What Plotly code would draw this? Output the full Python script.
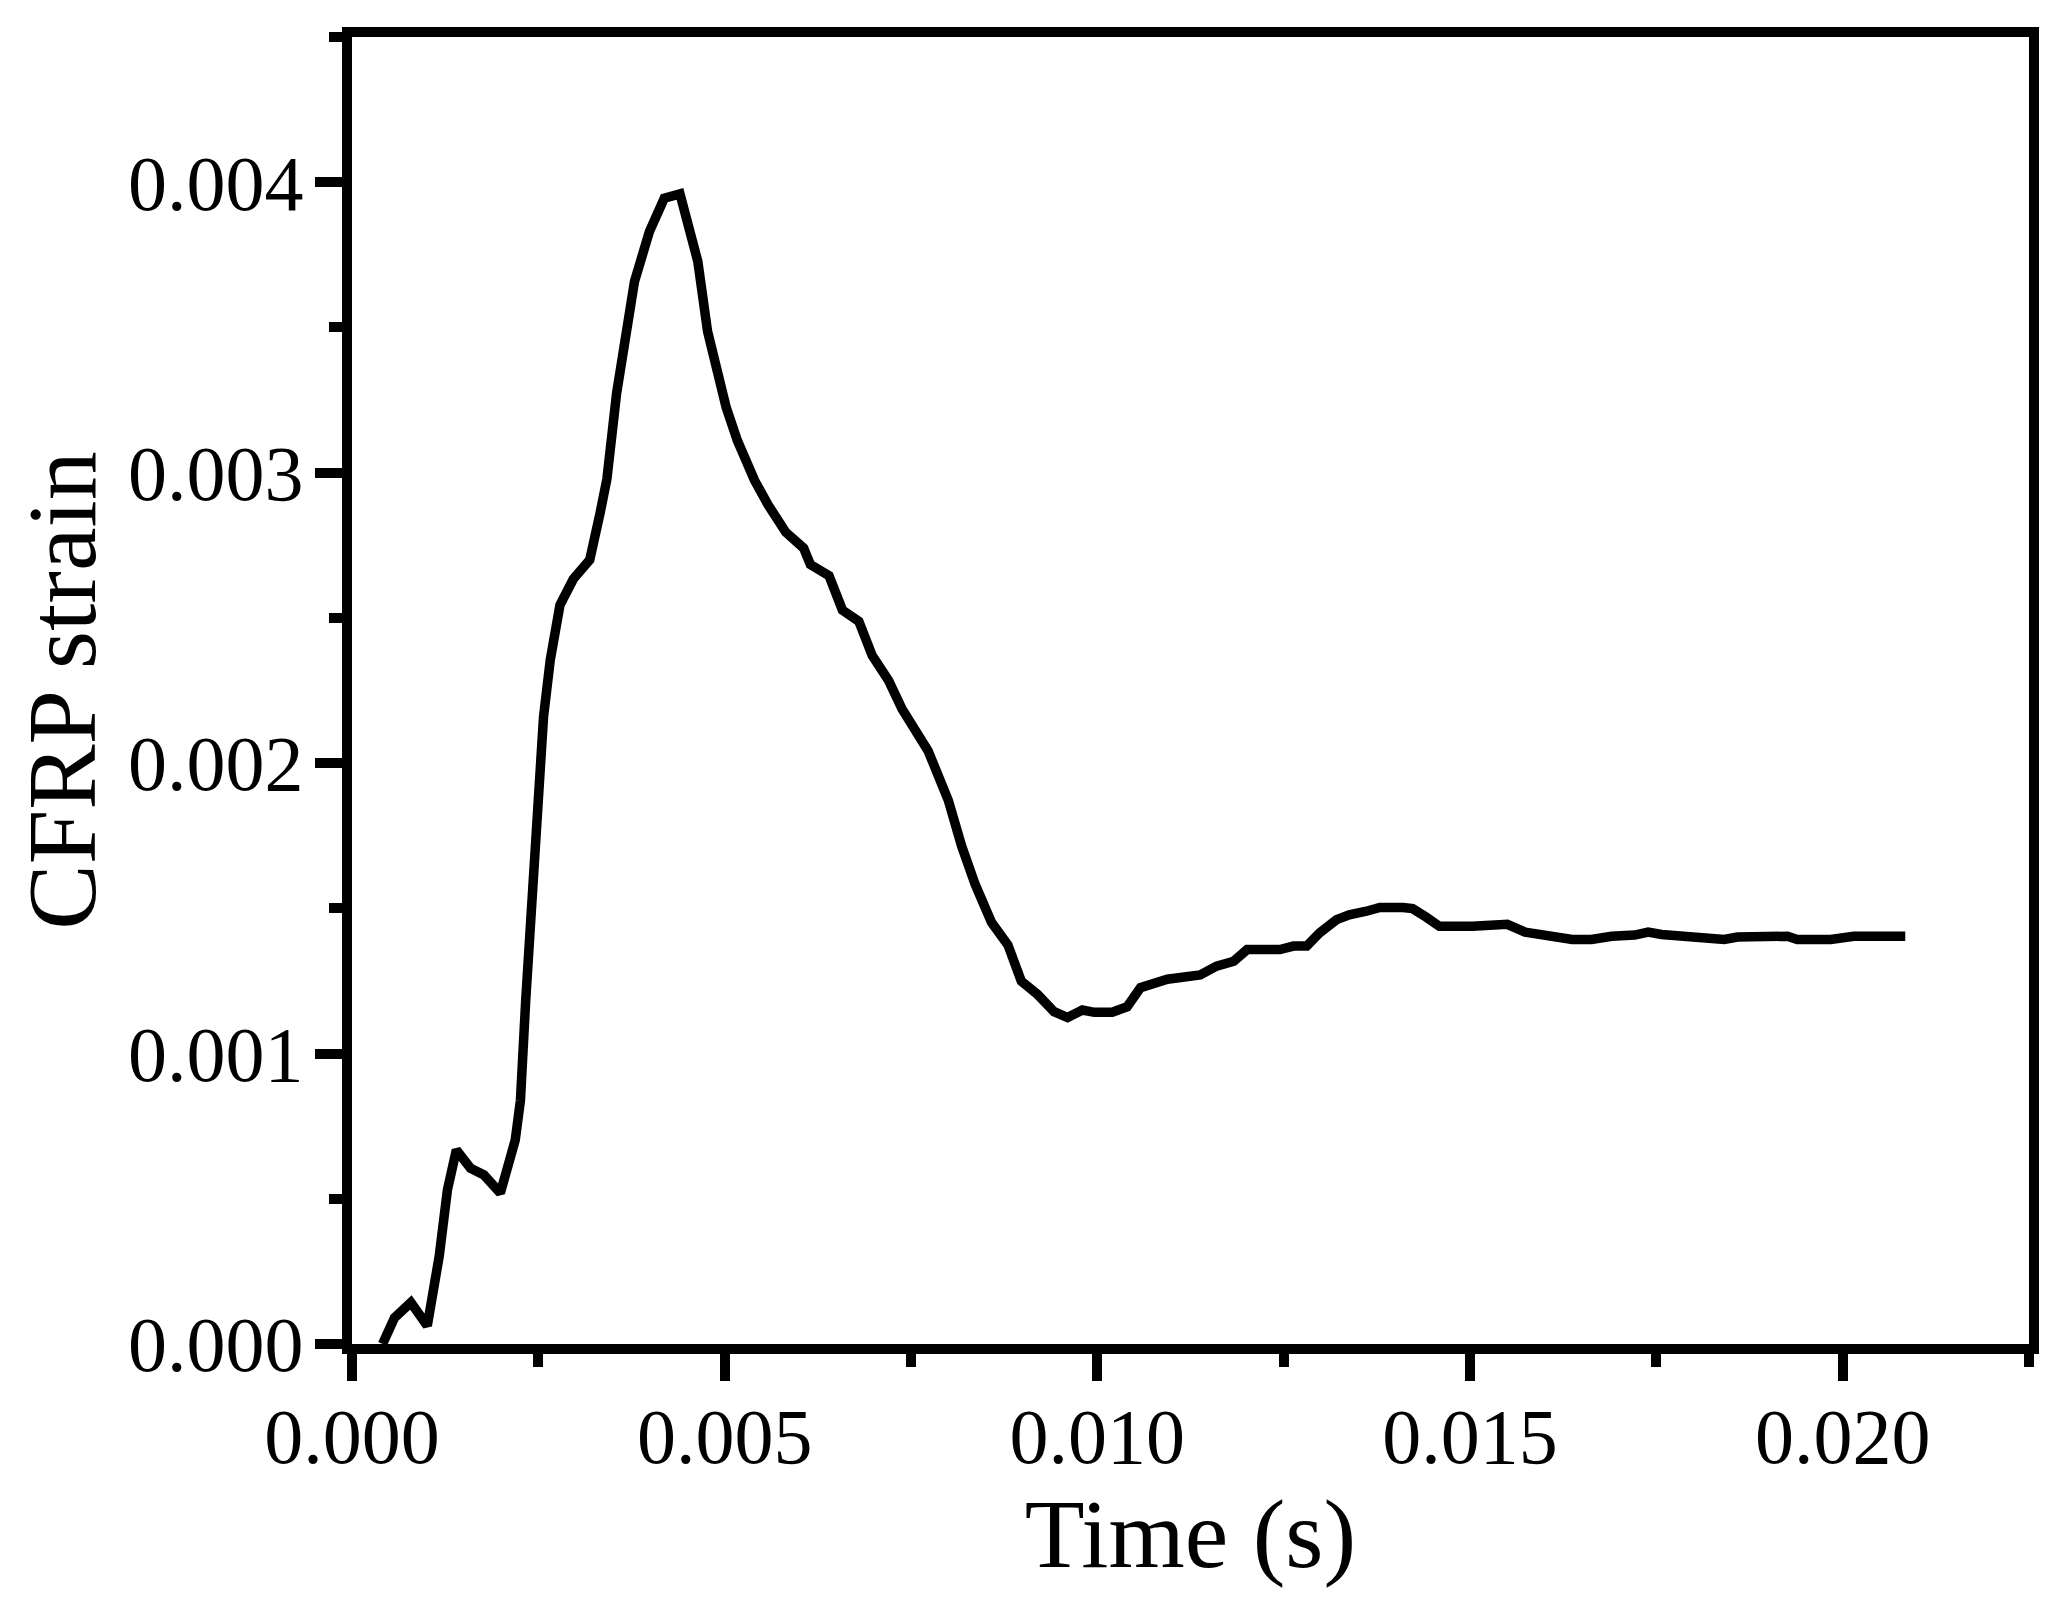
import plotly.graph_objects as go

time_s = [0.00041, 0.00057, 0.00079, 0.00101, 0.00117, 0.00128, 0.00140, 0.00159, 0.00177, 0.00199,
          0.00219, 0.00226, 0.00233, 0.00241, 0.00250, 0.00257, 0.00266, 0.00279, 0.00297, 0.00319,
          0.00333, 0.00342, 0.00355, 0.00368, 0.00379, 0.00399, 0.00419, 0.00440, 0.00453, 0.00464,
          0.00477, 0.00488, 0.00502, 0.00517, 0.00540, 0.00558, 0.00582, 0.00606, 0.00615, 0.00640,
          0.00658, 0.00680, 0.00698, 0.00720, 0.00738, 0.00773, 0.00800, 0.00818, 0.00836, 0.00858,
          0.00880, 0.00898, 0.00920, 0.00942, 0.00960, 0.00980, 0.00996, 0.01020, 0.01040, 0.01058,
          0.01094, 0.01138, 0.01160, 0.01183, 0.01201, 0.01245, 0.01263, 0.01281, 0.01298, 0.01321,
          0.01338, 0.01361, 0.01379, 0.01410, 0.01423, 0.01441, 0.01459, 0.01503, 0.01530, 0.01550,
          0.01574, 0.01606, 0.01637, 0.01663, 0.01690, 0.01721, 0.01739, 0.01757, 0.01784, 0.01815,
          0.01841, 0.01859, 0.01885, 0.01912, 0.01926, 0.01939, 0.01984, 0.02015, 0.02084]

cfrp_strain = [0.00000, 0.000090, 0.000143, 0.000063, 0.000302, 0.000530, 0.000668, 0.000605, 0.000582, 0.000520,
               0.000702, 0.000839, 0.001180, 0.001520, 0.001830, 0.002160, 0.002355, 0.002544, 0.002634, 0.002700,
               0.002863, 0.002978, 0.003273, 0.003470, 0.003658, 0.003830, 0.003945, 0.003960, 0.003818, 0.003727,
               0.003487, 0.003362, 0.003225, 0.003111, 0.002974, 0.002890, 0.002795, 0.002740, 0.002684, 0.002645,
               0.002527, 0.002488, 0.002370, 0.002284, 0.002186, 0.002042, 0.001872, 0.001714, 0.001583, 0.001452,
               0.001374, 0.001249, 0.001203, 0.001144, 0.001124, 0.001150, 0.001142, 0.001142, 0.001161, 0.001227,
               0.001256, 0.001271, 0.001301, 0.001318, 0.001358, 0.001358, 0.001370, 0.001370, 0.001415, 0.001461,
               0.001478, 0.001490, 0.001503, 0.001503, 0.001499, 0.001470, 0.001438, 0.001438, 0.001446, 0.001445,
               0.001418, 0.001404, 0.001393, 0.001393, 0.001404, 0.001408, 0.001418, 0.001410, 0.001404, 0.001393,
               0.001393, 0.001401, 0.001404, 0.001408, 0.001404, 0.001393, 0.001393, 0.001404, 0.001404]

x_title = "Time (s)"
y_title = "CFRP strain"

FONT = "Liberation Serif, Times New Roman, serif"

fig = go.Figure()
fig.add_trace(go.Scatter(x=time_s, y=cfrp_strain, mode="lines",
                         line=dict(color="black", width=9.5), showlegend=False))

axis_common = dict(
    showline=True, linecolor="black", linewidth=10, mirror=True,
    showgrid=False, zeroline=False,
    ticks="outside", ticklen=27, tickwidth=10, tickcolor="black",
    tickformat=".3f",
    tickfont=dict(family=FONT, size=78, color="black"),
)

fig.update_xaxes(
    range=[0, 0.0225], dtick=0.005, tick0=0,
    minor=dict(dtick=0.0025, tick0=0, ticks="outside", ticklen=13, tickwidth=10, tickcolor="black"),
    title=dict(text=x_title, font=dict(family=FONT, size=98, color="black"), standoff=16),
    ticklabelstandoff=-12,
    **axis_common,
)
fig.update_yaxes(
    range=[0, 0.0045], dtick=0.001, tick0=0,
    minor=dict(dtick=0.0005, tick0=0, ticks="outside", ticklen=13, tickwidth=10, tickcolor="black"),
    title=dict(text=y_title, font=dict(family=FONT, size=98, color="black"), standoff=30),
    ticklabelstandoff=-4,
    **axis_common,
)

fig.update_layout(
    width=2060, height=1606,
    margin=dict(l=344, r=39, t=29, b=270),
    plot_bgcolor="white", paper_bgcolor="white",
)

fig.write_html("out.html")
